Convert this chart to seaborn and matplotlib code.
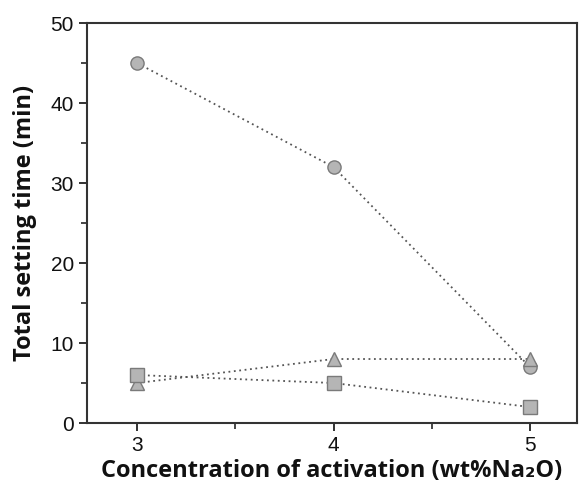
import matplotlib
matplotlib.use("Agg")
import matplotlib.pyplot as plt
import seaborn as sns
import pandas as pd
from matplotlib.ticker import MultipleLocator

conc = [3, 4, 5]
circle_vals = [45, 32, 7]
triangle_vals = [5, 8, 8]
square_vals = [6, 5, 2]
series_names = ["circle", "triangle", "square"]

rows = []
for name, vals in zip(series_names, [circle_vals, triangle_vals, square_vals]):
    for c, v in zip(conc, vals):
        rows.append({"conc": c, "time": v, "series": name})
df = pd.DataFrame(rows)

sns.set_style("ticks")
plt.rcParams['font.family'] = ['Liberation Sans', 'DejaVu Sans']

fig = plt.figure(figsize=(5.8, 4.86), dpi=100)
ax = fig.add_axes([0.15, 0.1296, 0.845, 0.823])

markers = {"circle": "o", "triangle": "^", "square": "s"}
for name in series_names:
    sub = df[df.series == name]
    sns.lineplot(data=sub, x="conc", y="time", ax=ax, color="#555555",
                 linestyle=(0, (1, 2)), linewidth=1.3, marker=markers[name],
                 markersize=9.5, markerfacecolor="#b5b5b5", markeredgecolor="#7a7a7a",
                 markeredgewidth=1.0, legend=False)

ax.set_xlim(2.745, 5.24)
ax.set_ylim(0, 50)
ax.set_xticks([3, 4, 5])
ax.xaxis.set_minor_locator(MultipleLocator(0.5))
ax.yaxis.set_major_locator(MultipleLocator(10))
ax.yaxis.set_minor_locator(MultipleLocator(5))
ax.tick_params(axis='both', which='major', direction='out', length=6, width=1.3,
               labelsize=15, colors='#222222', labelcolor='#111111', top=False, right=False)
ax.tick_params(axis='both', which='minor', direction='out', length=4, width=1.2,
               top=False, right=False)
for s in ax.spines.values():
    s.set_linewidth(1.5)
    s.set_color('#333333')

ax.set_xlabel("Concentration of activation (wt%Na₂O)", fontsize=17, fontweight='bold',
              family=['Open Sans', 'DejaVu Sans'], labelpad=3, color='#111111')
ax.set_ylabel("Total setting time (min)", fontsize=17, fontweight='bold',
              family=['Open Sans', 'DejaVu Sans'], labelpad=10, color='#111111')

fig.savefig("out.png", dpi=100)
